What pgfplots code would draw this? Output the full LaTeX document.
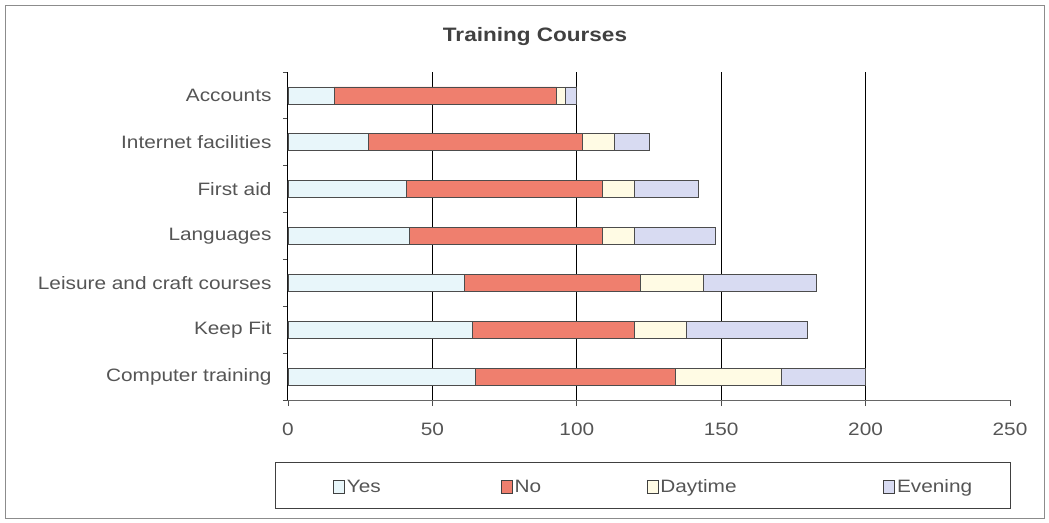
\documentclass[border=0pt]{standalone}
\usepackage{fontspec}
\setmainfont{Liberation Sans}[FakeStretch=1.16]
\usepackage{pgfplots}
\usepackage{pgfplotstable}
\pgfplotsset{compat=1.18}

\definecolor{yescol}{RGB}{232,246,250}
\definecolor{nocol}{RGB}{239,127,110}
\definecolor{daycol}{RGB}{255,251,228}
\definecolor{evecol}{RGB}{216,219,242}
\definecolor{txt}{RGB}{85,85,85}

% y = row position (Accounts at the top)
\pgfplotstableread{
y yes no day eve
6 16 77 3 4
5 28 74 11 12
4 41 68 11 22
3 42 67 11 28
2 61 61 22 39
1 64 56 18 42
0 65 69 37 29
}\courses

\pgfplotsset{sqlegend/.style={legend image code/.code={%
  \draw[##1,draw=black!75,line width=0.7bp] (0bp,-6.5bp) rectangle (11bp,6.5bp);}}}

\begin{document}
\begin{tikzpicture}
\useasboundingbox (-288bp,-123bp) rectangle (761bp,400bp);
\draw[black!45, line width=0.8bp] (-283bp,-118bp) rectangle (756bp,395bp);
\node[font=\fontsize{19.5}{22}\selectfont\bfseries, text=black!75] at (247bp,363bp) {Training Courses};
% legend frame
\draw[black!75, line width=0.8bp] (-13bp,-62bp) rectangle (722bp,-108bp);
\begin{axis}[
  at={(0,0)}, anchor=south west,
  scale only axis, width=722bp, height=328bp,
  xbar stacked, bar width=17bp,
  xmin=0, xmax=250, ymin=-0.5, ymax=6.5,
  axis x line*=bottom, axis y line*=left,
  x axis line style={black!60, line width=0.9bp},
  y axis line style={black, line width=1bp},
  xtick={0,50,...,250},
  ytick={0,...,6},
  yticklabels={Computer training, Keep Fit, Leisure and craft courses, Languages, First aid, Internet facilities, Accounts},
  minor ytick={-0.5,0.5,...,6.5},
  tick align=outside,
  major tick length=6bp, minor tick length=5bp,
  x tick style={black!70, line width=0.8bp},
  major y tick style={draw=none},
  minor y tick style={black!70, line width=0.8bp},
  extra x ticks={50,100,150,200},
  extra x tick labels={},
  extra x tick style={grid=major, major tick length=0pt},
  major grid style={black, line width=1.3bp},
  tick label style={font=\fontsize{18}{21}\selectfont, text=txt},
  /pgf/number format/assume math mode=true,
  xticklabel style={yshift=-13bp},
  yticklabel style={xshift=-7bp},
  legend columns=4,
  legend style={draw=none, fill=none, at={(0.0624,-0.265)}, anchor=west,
    font=\fontsize{18}{21}\selectfont, text=txt,
    column sep=0pt, inner xsep=0pt, nodes={inner xsep=2bp}},
  every axis plot/.append style={draw=black!70, line width=0.8bp},
]
\addplot[fill=yescol, sqlegend] table[x=yes, y=y] {\courses};
\addlegendentry{\makebox[152bp][l]{Yes}}
\addplot[fill=nocol, sqlegend] table[x=no, y=y] {\courses};
\addlegendentry{\makebox[130bp][l]{No}}
\addplot[fill=daycol, sqlegend] table[x=day, y=y] {\courses};
\addlegendentry{\makebox[221bp][l]{Daytime}}
\addplot[fill=evecol, sqlegend] table[x=eve, y=y] {\courses};
\addlegendentry{Evening}
\end{axis}
\end{tikzpicture}
\end{document}
